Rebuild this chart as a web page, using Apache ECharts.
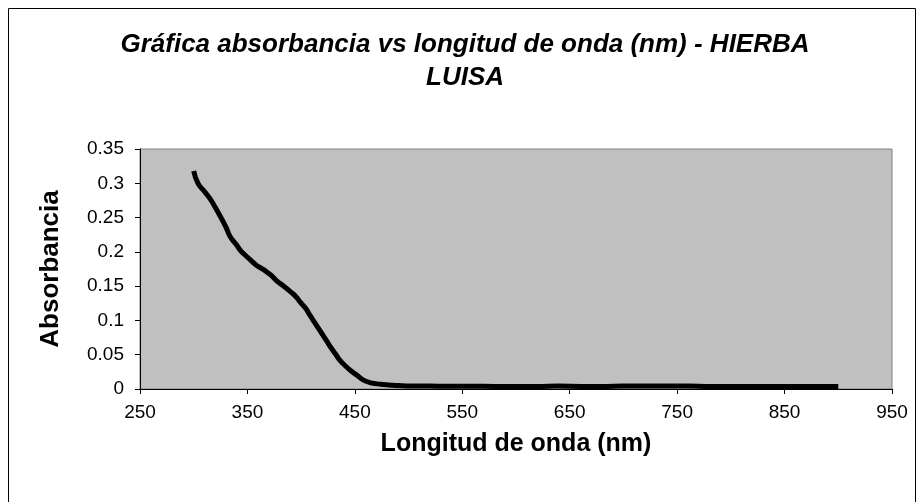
<!DOCTYPE html>
<html>
<head>
<meta charset="utf-8">
<script src="https://cdn.jsdelivr.net/npm/echarts@6/dist/echarts.min.js"></script>
<style>
  html, body { margin: 0; padding: 0; background: #ffffff; }
  #chart { width: 920px; height: 502px; }
</style>
</head>
<body>
<div id="chart"></div>
<script>
// longitud de onda (nm)
var wavelengths = [300, 304, 310, 315, 320, 325, 330, 334, 340, 343, 348, 353, 358, 365, 372, 377, 383, 390, 395, 399, 404, 408, 413, 418, 423, 427, 432, 436, 441, 446, 452, 458, 465, 474, 482, 490, 500, 520, 540, 560, 580, 600, 620, 640, 660, 680, 700, 720, 740, 760, 780, 800, 820, 840, 860, 880, 900];
// absorbancia
var absorbance = [0.318, 0.300, 0.288, 0.278, 0.265, 0.251, 0.236, 0.222, 0.210, 0.203, 0.195, 0.188, 0.181, 0.174, 0.166, 0.158, 0.151, 0.142, 0.135, 0.127, 0.118, 0.108, 0.096, 0.084, 0.072, 0.062, 0.051, 0.042, 0.034, 0.027, 0.020, 0.013, 0.009, 0.007, 0.006, 0.005, 0.0045, 0.0042, 0.004, 0.004, 0.0038, 0.0038, 0.0037, 0.0042, 0.0037, 0.0036, 0.0042, 0.0044, 0.0043, 0.0045, 0.0037, 0.0036, 0.0036, 0.0036, 0.0038, 0.0036, 0.0035];

var points = [];
wavelengths.forEach(function (w, i) {
  points.push([w, absorbance[i]]);
});

var chart = echarts.init(document.getElementById("chart"));
var option = {
  backgroundColor: "#ffffff",
  animation: false,
  title: {
    text: "Gráfica absorbancia vs longitud de onda (nm) - HIERBA\nLUISA",
    left: 460,
    top: 23,
    textAlign: "center",
    textStyle: {
      color: "#000000",
      fontSize: 26,
      fontStyle: "italic",
      fontWeight: "bold",
      fontFamily: "Liberation Sans, Arial",
      lineHeight: 33
    }
  },
  graphic: [
    {
      type: "rect",
      shape: { x: 8.5, y: 8.5, width: 907, height: 500 },
      style: { fill: null, stroke: "#000000", lineWidth: 1 },
      z: -1
    }
  ],
  grid: {
    left: 140,
    right: 28,
    top: 149,
    bottom: 113,
    show: true,
    backgroundColor: "#c0c0c0",
    borderColor: "#808080",
    borderWidth: 1
  },
  xAxis: {
    type: "value",
    min: 250,
    max: 950,
    interval: 100,
    name: "Longitud de onda (nm)",
    nameLocation: "middle",
    nameGap: 43,
    nameTextStyle: {
      color: "#000000",
      fontSize: 25,
      fontWeight: "bold",
      fontFamily: "Liberation Sans, Arial"
    },
    splitLine: { show: false },
    axisLine: { onZero: false, lineStyle: { color: "#000000", width: 1 } },
    axisTick: { length: 5, lineStyle: { color: "#000000" } },
    axisLabel: {
      color: "#000000",
      fontSize: 19,
      margin: 14,
      fontFamily: "Liberation Sans, Arial"
    }
  },
  yAxis: {
    type: "value",
    min: 0,
    max: 0.35,
    interval: 0.05,
    name: "Absorbancia",
    nameLocation: "middle",
    nameGap: 76,
    nameTextStyle: {
      color: "#000000",
      fontSize: 26,
      fontWeight: "bold",
      fontFamily: "Liberation Sans, Arial"
    },
    splitLine: { show: false },
    axisLine: { show: true, lineStyle: { color: "#000000", width: 1 } },
    axisTick: { show: true, length: 5, lineStyle: { color: "#000000" } },
    axisLabel: {
      color: "#000000",
      fontSize: 19,
      margin: 16,
      fontFamily: "Liberation Sans, Arial"
    }
  },
  series: [
    {
      type: "line",
      data: points,
      smooth: true,
      showSymbol: false,
      lineStyle: { color: "#000000", width: 5 }
    }
  ]
};
chart.setOption(option);
</script>
</body>
</html>
